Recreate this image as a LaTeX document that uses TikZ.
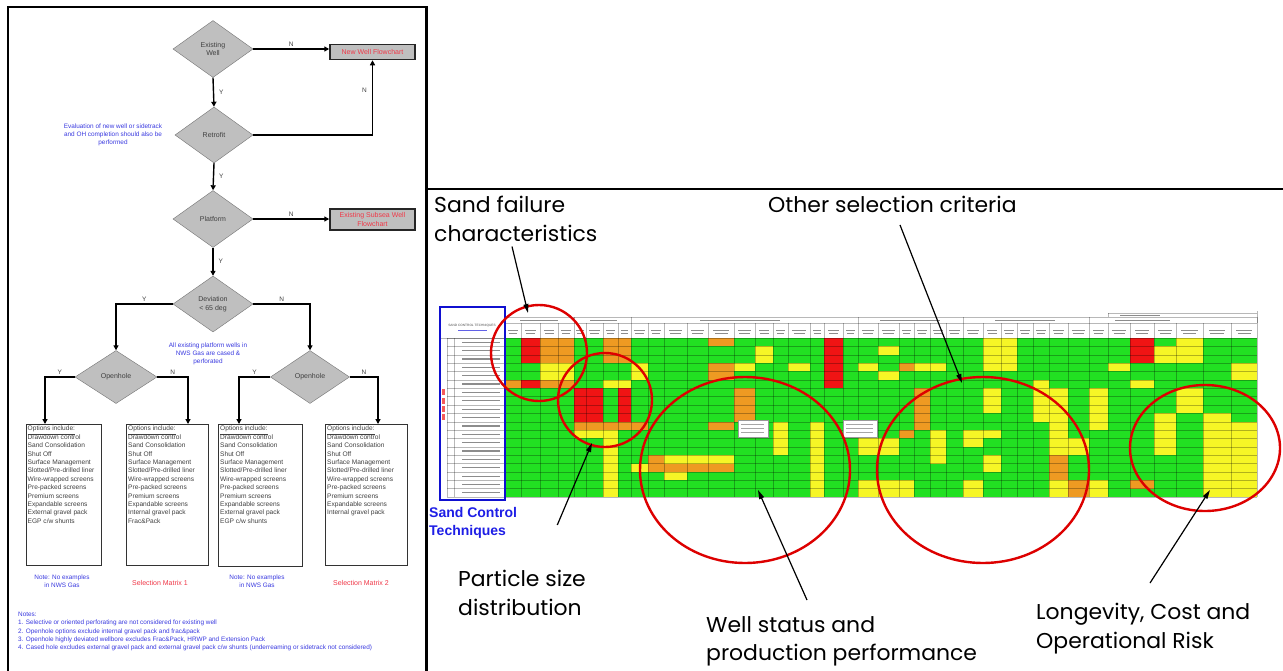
\documentclass[tikz,border=0pt]{standalone}
\usepackage{fontspec}
\setmainfont{Liberation Sans}
\newfontfamily\handfont[FakeStretch=1.02]{Poppins}
\usetikzlibrary{shapes.geometric,arrows.meta,calc}

\definecolor{cellgreen}{HTML}{22E022}
\definecolor{cellred}{HTML}{F01414}
\definecolor{cellorange}{HTML}{EE9A22}
\definecolor{cellyellow}{HTML}{F6F626}
\definecolor{ringred}{HTML}{DD0000}
\definecolor{noteblue}{HTML}{3A3AE0}
\definecolor{matred}{HTML}{F03848}
\definecolor{techblue}{HTML}{1E1EE6}
\definecolor{framblue}{HTML}{1010D0}

\begin{document}
\begin{tikzpicture}[x=1pt,y=-1pt,
  dia/.style={diamond, draw=black!55, fill=black!25, inner sep=0pt,
    minimum width=80pt, minimum height=57pt, align=center,
    font=\fontsize{7}{8.5}\selectfont, text=black!75},
  flow/.style={-{Triangle[length=5pt,width=5pt]}, line width=1.4pt},
  lab/.style={font=\fontsize{6.5}{7}\selectfont, text=black!75, inner sep=1pt},
  redbox/.style={draw=black!85, line width=1.5pt, fill=black!25, text=matred,
    align=center, inner sep=1pt, font=\fontsize{7}{8.5}\selectfont},
  optbox/.style={draw=black!80, line width=1pt, fill=white, anchor=north west, inner sep=0pt},
  opttext/.style={anchor=north west, inner sep=0pt, align=left,
    font=\fontsize{6.6}{8.4}\selectfont, text=black!75},
  bluenote/.style={text=noteblue, align=center, font=\fontsize{6.4}{7.8}\selectfont},
  rednote/.style={text=matred, font=\fontsize{7}{8}\selectfont},
  ring/.style={draw=ringred, line width=2.4pt},
  callout/.style={anchor=north west, inner sep=0pt, align=left,
    font=\handfont\fontsize{21.5}{28.5}\selectfont},
  callarrow/.style={-{Triangle[length=9pt,width=5pt]}, line width=1.2pt},
  gridline/.style={draw=black, opacity=0.28, line width=0.4pt},
  smudge/.style={fill=black!45}
]
\useasboundingbox (0,0) rectangle (1283,670);
\fill[white] (0,0) rectangle (1283,670);

% ---------------- panel frames ----------------
\draw[line width=2.4pt] (8,672) -- (8,7) -- (426.5,7) -- (426.5,672);
\draw[line width=2.4pt] (426.5,189) -- (1285,189);

% ---------------- decision flowchart ----------------
\node[dia] (d1) at (213,49) {Existing\\Well};
\node[redbox, minimum width=85pt, minimum height=15pt] (b1) at (372.5,52) {New Well Flowchart};
\node[dia, minimum width=78pt, minimum height=56pt] (d2) at (214,135) {Retrofit};
\node[dia] (d3) at (213,219) {Platform};
\node[redbox, minimum width=85pt, minimum height=21pt] (b2) at (372.5,219.5) {Existing Subsea Well\\Flowchart};
\node[dia, minimum height=56pt] (d4) at (213,304) {Deviation\\< 65 deg};
\node[dia, minimum width=82pt, minimum height=53pt] (d5) at (116,377) {Openhole};
\node[dia, minimum width=79pt, minimum height=53pt] (d6) at (310,377) {Openhole};

\node[bluenote] (n1) at (113,135) {Evaluation of new well or sidetrack\\and OH completion should also be\\performed};
\node[bluenote] (n2) at (208,354) {All existing platform wells in\\NWS Gas are cased \&\\perforated};

\draw[flow] (d1.east) -- (d1.east -| b1.west) node[lab, midway, above=1pt] {N};
\draw[flow] (d1.south) -- (d2.north) node[lab, midway, right=4pt] {Y};
\draw[flow] (d2.east) -| (b1.south) node[lab, pos=0.8, left=4pt] {N};
\draw[flow] (d2.south) -- (d3.north) node[lab, midway, right=4pt] {Y};
\draw[flow] (d3.east) -- (d3.east -| b2.west) node[lab, midway, above=1pt] {N};
\draw[flow] (d3.south) -- (d4.north) node[lab, midway, right=4pt] {Y};
\draw[flow] (d4.west) -| (d5.north) node[lab, pos=0.25, above=1pt] {Y};
\draw[flow] (d4.east) -| (d6.north) node[lab, pos=0.25, above=1pt] {N};

% option boxes
\node[optbox, minimum width=75pt, minimum height=141pt] (o1) at (26,424) {};
\node[optbox, minimum width=82pt, minimum height=141pt] (o2) at (126,424) {};
\node[optbox, minimum width=84pt, minimum height=142pt] (o3) at (218,424) {};
\node[optbox, minimum width=82pt, minimum height=141pt] (o4) at (325,424) {};

\draw[flow] (d5.west) -| ([xshift=19pt]o1.north west) node[lab, pos=0.25, above=1pt] {Y};
\draw[flow] (d5.east) -| ([xshift=62pt]o2.north west) node[lab, pos=0.25, above=1pt] {N};
\draw[flow] (d6.west) -| ([xshift=21pt]o3.north west) node[lab, pos=0.25, above=1pt] {Y};
\draw[flow] (d6.east) -| ([xshift=53pt]o4.north west) node[lab, pos=0.25, above=1pt] {N};

\node[opttext] (o1t) at ([shift={(1.5,2)}]o1.north west) {\underline{Options include:}\\Drawdown control\\Sand Consolidation\\Shut Off\\Surface Management\\Slotted/Pre-drilled liner\\Wire-wrapped screens\\Pre-packed screens\\Premium screens\\Expandable screens\\External gravel pack\\EGP c/w shunts};
\node[opttext] (o2t) at ([shift={(2,2)}]o2.north west) {\underline{Options include:}\\Drawdown control\\Sand Consolidation\\Shut Off\\Surface Management\\Slotted/Pre-drilled liner\\Wire-wrapped screens\\Pre-packed screens\\Premium screens\\Expandable screens\\Internal gravel pack\\Frac\&Pack};
\node[opttext] (o3t) at ([shift={(2,2)}]o3.north west) {\underline{Options include:}\\Drawdown control\\Sand Consolidation\\Shut Off\\Surface Management\\Slotted/Pre-drilled liner\\Wire-wrapped screens\\Pre-packed screens\\Premium screens\\Expandable screens\\External gravel pack\\EGP c/w shunts};
\node[opttext] (o4t) at ([shift={(2,2)}]o4.north west) {\underline{Options include:}\\Drawdown control\\Sand Consolidation\\Shut Off\\Surface Management\\Slotted/Pre-drilled liner\\Wire-wrapped screens\\Pre-packed screens\\Premium screens\\Expandable screens\\Internal gravel pack};

\node[bluenote] (n3) at (62,581.5) {Note: No examples\\in NWS Gas};
\node[rednote] (m1) at (160,583) {Selection Matrix 1};
\node[bluenote] (n4) at (257,581.5) {Note: No examples\\in NWS Gas};
\node[rednote] (m2) at (361,583) {Selection Matrix 2};

\node[anchor=north west, inner sep=0pt, align=left, text=noteblue,
      font=\fontsize{6.4}{8.3}\selectfont] (notes) at (18,612)
 {Notes:\\
  1. Selective or oriented perforating are not considered for existing well\\
  2. Openhole options exclude internal gravel pack and frac\&pack\\
  3. Openhole highly deviated wellbore excludes Frac\&Pack, HRWP and Extension Pack\\
  4. Cased hole excludes external gravel pack and external gravel pack c/w shunts (underreaming or sidetrack not considered)};

% ---------------- selection matrix ----------------
\def\colpairs{505/521,521/540,540/558,558/574,574/586,586/603,603/618,618/631,631/648,648/664,664/687,687/708,708/734,734/755,755/773,773/788,788/810,810/824,824/843,843/858,858/878,878/899,899/914,914/930,930/946,946/963,963/983,983/1001,1001/1017,1017/1033,1033/1049,1049/1068,1068/1089,1089/1108,1108/1130,1130/1154,1154/1176,1176/1203,1203/1231,1231/1257}

\fill[cellgreen] (505,338) rectangle (1257,497);
\foreach \xa/\xb/\ra/\rb/\cc in {
  521/540/0/2/cellred, 540/574/0/2/cellorange, 540/574/3/4/cellyellow,
  505/521/5/5/cellorange, 521/540/5/5/cellred, 540/574/5/5/cellorange,
  574/603/6/9/cellred, 618/631/6/9/cellred, 603/631/0/2/cellorange,
  603/631/5/5/cellyellow, 631/648/3/4/cellyellow, 574/648/10/10/cellorange,
  603/618/11/18/cellyellow, 574/603/11/11/cellyellow,
  708/734/0/0/cellorange, 708/734/3/4/cellorange, 708/734/10/10/cellorange,
  734/755/3/3/cellyellow, 734/755/6/9/cellorange, 755/773/1/2/cellyellow,
  788/810/3/3/cellyellow, 824/843/0/5/cellred, 810/824/10/18/cellyellow,
  773/788/10/13/cellyellow, 648/664/14/15/cellorange, 664/734/14/14/cellyellow,
  664/734/15/15/cellorange, 631/648/15/15/cellyellow, 664/687/16/16/cellyellow,
  983/1017/0/3/cellyellow, 878/899/1/1/cellyellow, 878/899/4/4/cellyellow,
  858/878/3/3/cellyellow, 899/914/3/3/cellorange, 914/946/3/3/cellyellow,
  1108/1130/3/3/cellyellow, 1130/1154/0/2/cellred, 1154/1176/1/2/cellyellow,
  1176/1203/0/2/cellyellow, 1231/1257/3/4/cellyellow, 1130/1154/5/5/cellyellow,
  914/930/6/10/cellorange, 983/1001/6/8/cellyellow, 983/1001/11/11/cellyellow,
  983/1001/14/15/cellyellow, 1033/1049/5/9/cellyellow, 1049/1068/6/18/cellyellow,
  1049/1068/14/16/cellorange, 1068/1089/12/13/cellyellow, 1068/1089/17/18/cellorange,
  1089/1108/6/10/cellyellow, 1089/1108/17/18/cellyellow, 1176/1203/6/8/cellyellow,
  1203/1231/9/18/cellyellow, 1231/1257/10/18/cellyellow, 1154/1176/9/13/cellyellow,
  1130/1154/17/17/cellorange, 858/914/17/18/cellyellow, 858/899/12/13/cellyellow,
  930/946/11/14/cellyellow, 963/983/11/12/cellyellow, 963/983/17/18/cellyellow,
  899/914/11/11/cellorange}
  \fill[\cc] (\xa,{338+8.37*\ra}) rectangle (\xb,{338+8.37*(\rb+1)});

% row and column rules, header captions
\foreach \r in {0,...,19} \draw[gridline] (505,{338+8.37*\r}) -- (1257,{338+8.37*\r});
\draw[gridline] (505,317) -- (1257,317);
\draw[gridline] (505,323) -- (1257,323);
\draw[gridline] (1108,313) -- (1257,313);
\draw[gridline] (1108,313) -- (1108,317);
\draw[gridline] (1257,311) -- (1257,497);
\foreach \xa/\xb in \colpairs {
  \draw[gridline] (\xa,323) -- (\xa,497);
  \fill[smudge] ({\xa+0.2*(\xb-\xa)},329.5) rectangle ({\xb-0.2*(\xb-\xa)},330.8);
  \fill[smudge] ({\xa+0.25*(\xb-\xa)},332.5) rectangle ({\xb-0.25*(\xb-\xa)},333.6);
}
\foreach \xa in {505,574,631,858,963,1089,1257} \draw[gridline] (\xa,317) -- (\xa,323);
\foreach \xa/\xb in {520/558, 590/617, 700/780, 880/940, 995/1055, 1115/1170}
  \fill[smudge] (\xa,319.5) rectangle (\xb,320.7);
\fill[smudge] (1120,314.5) rectangle (1160,315.5);

% pop-up comments on the sheet
\fill[white, draw=black!40, line width=0.4pt] (738,420) rectangle (768,437);
\fill[white, draw=black!40, line width=0.4pt] (843,420) rectangle (877,437);
\foreach \yy in {424,428,432} {
  \fill[black!35] (741,\yy) rectangle (764,\yy+1);
  \fill[black!35] (846,\yy) rectangle (873,\yy+1);
}

% technique list column
\fill[white] (440,307) rectangle (505,500);
\foreach \r in {0,...,19} \draw[gridline] (447,{338+8.37*\r}) -- (505,{338+8.37*\r});
\draw[gridline] (447,338) -- (447,497);
\draw[gridline] (454,338) -- (454,497);
\draw[gridline] (440,338) -- (505,338);
\foreach \r in {0,...,18}
  \fill[smudge] (462,{338+8.37*\r+3.6}) rectangle (500,{338+8.37*\r+4.8});
\foreach \r in {6,...,9}
  \fill[cellred!70] (442,{338+8.37*\r+1}) rectangle (445,{338+8.37*\r+7});
\node[inner sep=0pt, font=\fontsize{3.2}{4}\selectfont, text=black!70] (sctHead) at (472,326) {SAND CONTROL TECHNIQUES};
\fill[noteblue!80] (458,330) rectangle (487,331.2);
\draw[framblue, line width=2.4pt] (440,307) rectangle (505,500);

% ---------------- call-outs ----------------
\draw[ring] (539,353) ellipse [x radius=48pt, y radius=48pt];
\draw[ring] (605,400) ellipse [x radius=47pt, y radius=47pt];
\draw[ring] (745,470) ellipse [x radius=105pt, y radius=93pt];
\draw[ring] (983,470) ellipse [x radius=106pt, y radius=93pt];
\draw[ring] (1205,448) ellipse [x radius=75pt, y radius=63pt];

\node[callout] (sf) at (434,196) {Sand failure\\characteristics};
\node[callout] (oc) at (768,196) {Other selection criteria};
\node[callout] (ps) at (458,570) {Particle size\\distribution};
\node[callout] (ws) at (706,616) {Well status and\\production performance};
\node[callout] (lc) at (1036,603) {Longevity, Cost and\\Operational Risk};
\node[anchor=north west, inner sep=0pt, align=left, text=techblue,
      font=\bfseries\fontsize{14}{18}\selectfont] (sct) at (429,507) {Sand Control\\Techniques};

\coordinate (sfTip) at (528,313);
\coordinate (ocTip) at (962,383);
\coordinate (psTip) at (592,443);
\coordinate (wsTip) at (758,490);
\coordinate (lcTip) at (1210,490);
\draw[callarrow] ($(sf.south west)+(78,5)$) -- (sfTip);
\draw[callarrow] ($(oc.south west)+(132,12)$) -- (ocTip);
\draw[callarrow] ($(sct.north east)+(40,18)$) -- (psTip);
\draw[callarrow] ($(ws.north west)+(101,-16)$) -- (wsTip);
\draw[callarrow] ($(lc.north west)+(114,-20)$) -- (lcTip);
\end{tikzpicture}
\end{document}
